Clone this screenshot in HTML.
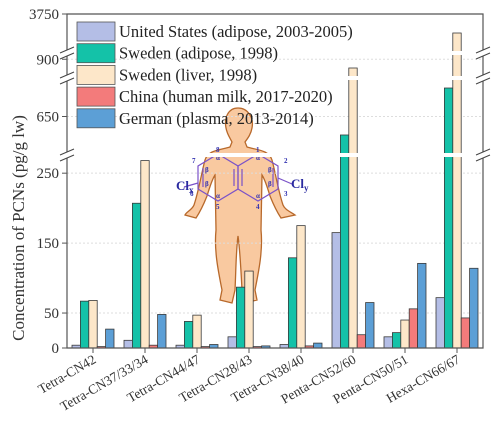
<!DOCTYPE html>
<html><head><meta charset="utf-8"><style>
body{margin:0;background:#fff;}
svg{display:block;}
svg text{font-family:"Liberation Serif","DejaVu Serif",serif;}
</style></head><body>
<svg id="chart" width="500" height="425" viewBox="0 0 500 425" font-family="Liberation Serif, DejaVu Serif, serif">
<g id="figure">
 <path d="M238,108 C228,108 224,118 226,128 C227,134 230,138 232,142 L230,147 C220,150 208,150 205,160 C201,175 199,190 194,205 C192,210 186,212 185,215 L196,218 C200,212 203,206 207,196 C210,186 213,178 215,175 L216,230 C214,250 218,270 222,290 L220,300 L232,303 L235,290 C236,270 236,250 238,236 C240,250 241,270 242,290 L245,303 L257,300 L255,290 C259,270 263,250 261,230 L262,175 C264,178 267,186 270,196 C274,206 277,212 281,218 L295,215 C291,212 285,210 283,205 C278,190 276,175 272,160 C269,150 257,150 247,147 L245,142 C248,138 251,134 252,128 C254,118 248,108 238,108 Z" fill="#f9c9a0" stroke="#b8692b" stroke-width="1.3"/>
 <g fill="none" stroke="#7a52c8" stroke-width="1.2">
  <polygon points="218,154 238,166 238,189 218,201 198,189 198,166"/>
  <polygon points="258,154 278,166 278,189 258,201 238,189 238,166"/>
  <line x1="234" y1="169" x2="234" y2="186"/><line x1="242" y1="169" x2="242" y2="186"/>
  <line x1="203" y1="168" x2="203" y2="187"/><line x1="273" y1="168" x2="273" y2="187"/>
  <line x1="198" y1="183" x2="184" y2="187"/><line x1="278" y1="178" x2="292" y2="184"/>
 </g>
 <g fill="#3030b0" font-size="7" font-weight="bold">
  <text x="216" y="152">8</text><text x="256" y="152">1</text><text x="192" y="163">7</text><text x="284" y="163">2</text>
  <text x="190" y="196">6</text><text x="284" y="196">3</text><text x="216" y="209">5</text><text x="256" y="209">4</text>
  <text x="216" y="160">α</text><text x="256" y="160">α</text><text x="205" y="172">β</text><text x="268" y="172">β</text>
  <text x="205" y="186">β</text><text x="268" y="186">β</text><text x="216" y="198">α</text><text x="256" y="198">α</text>
 </g>
 <text x="176" y="190" fill="#2a2aa0" font-size="13" font-weight="bold">Cl<tspan font-size="9" dy="3">x</tspan></text>
 <text x="291" y="188" fill="#2a2aa0" font-size="13" font-weight="bold">Cl<tspan font-size="9" dy="3">y</tspan></text>
</g>
<g id="grid"></g><g id="bars"></g><g id="axes"></g><g id="legend"></g>
</svg>
<script>
const categories=["Tetra-CN42","Tetra-CN37/33/34","Tetra-CN44/47","Tetra-CN28/43","Tetra-CN38/40","Penta-CN52/60","Penta-CN50/51","Hexa-CN66/67"];
const seriesNames=["United States (adipose, 2003-2005)","Sweden (adipose, 1998)","Sweden (liver, 1998)","China (human milk, 2017-2020)","German (plasma, 2013-2014)"];
const usAdipose=[4,11,4,16,5,165,16,72];
const swedenAdipose=[67,207,38,87,129,578,22,761];
const swedenLiver=[68,268,47,110,175,872,40,2371];
const chinaMilk=[2,4,2,2,3,19,56,43];
const germanPlasma=[27,48,5,3,7,65,121,114];
const yTicks=[0,50,150,250,650,900,3750];
const colors=["#b4bee6","#14c2a8","#fde7c9","#f37b7b","#5c9fd6"];
const NS="http://www.w3.org/2000/svg";
const FF="Liberation Serif, DejaVu Serif, serif";
function mk(t,a,p){const e=document.createElementNS(NS,t);for(const k in a)e.setAttribute(k,a[k]);if(t==='text')e.setAttribute('font-family',FF);p.appendChild(e);return e;}
const segs=[[0,276,348,155],[500,800,155,78],[840,920,78,53],[920,3750,53,14]];
function y(v){for(const s of segs){if(v<=s[1]){return s[2]+(v-s[0])/(s[1]-s[0])*(s[3]-s[2]);}}return 14;}
const L=67,R=483,T=14,B=348,gw=(R-L)/categories.length,bw=8.4;
function x(i){return L+gw*(i+0.5);}
const grid=document.getElementById('grid'),bars=document.getElementById('bars'),axes=document.getElementById('axes'),leg=document.getElementById('legend');
yTicks.forEach(v=>{if(v>0&&v<3750){const g=mk('line',{x1:L,x2:R,y1:y(v),y2:y(v),stroke:'#ddd','stroke-dasharray':'2,2'},grid);

}});
const all=[usAdipose,swedenAdipose,swedenLiver,chinaMilk,germanPlasma];
all.forEach((ser,si)=>{ser.forEach((v,i)=>{const bx=x(i)-2.5*bw+si*bw;
const r=mk('rect',{x:bx,y:y(v),width:bw,height:B-y(v),fill:colors[si],stroke:'#3a3a3a','stroke-width':0.8},bars);

});});
[155,78,53].forEach(yy=>{const g=mk('rect',{x:L+1,y:yy-2,width:R-L-2,height:4,fill:'#fff'},bars);

});
const fr=mk('path',{d:`M${L},${T}H${R}V${B}H${L}Z`,fill:'none',stroke:'#555','stroke-width':1.2},axes);


[155,78,53].forEach(yy=>{[L,R].forEach(xx=>{const w=mk('rect',{x:xx-1.5,y:yy-3,width:3,height:6,fill:'#fff'},axes);


[-3,3].forEach(d=>{const l=mk('line',{x1:xx-7,y1:yy+d+3,x2:xx+7,y2:yy+d-3,stroke:'#444','stroke-width':1},axes);

});});});
yTicks.forEach(v=>{const t=mk('line',{x1:L-5,x2:L,y1:y(v),y2:y(v),stroke:'#555'},axes);


const tx=mk('text',{x:L-8,y:y(v)+5,'text-anchor':'end','font-size':15,fill:'#333'},axes);tx.textContent=v;

});
categories.forEach((c,i)=>{const t=mk('line',{x1:x(i),x2:x(i),y1:B,y2:B+5,stroke:'#555'},axes);


const tx=mk('text',{x:x(i)+4,y:B+14,'text-anchor':'end','font-size':13.5,fill:'#333',transform:`rotate(-30 ${x(i)+4} ${B+14})`},axes);tx.textContent=c;

});
const yl=mk('text',{x:0,y:0,'text-anchor':'middle','font-size':17,fill:'#333',transform:'translate(24,228) rotate(-90)'},axes);yl.textContent='Concentration of PCNs (pg/g lw)';


seriesNames.forEach((n,i)=>{const yy=22+i*21.7;
const g=mk('g',{},leg);


mk('rect',{x:77,y:yy,width:38,height:19,fill:colors[i],stroke:'#555','stroke-width':0.8},g);
const t=mk('text',{x:119,y:yy+15,'font-size':16.5,fill:'#222'},g);t.textContent=n;});
</script>
</body></html>
